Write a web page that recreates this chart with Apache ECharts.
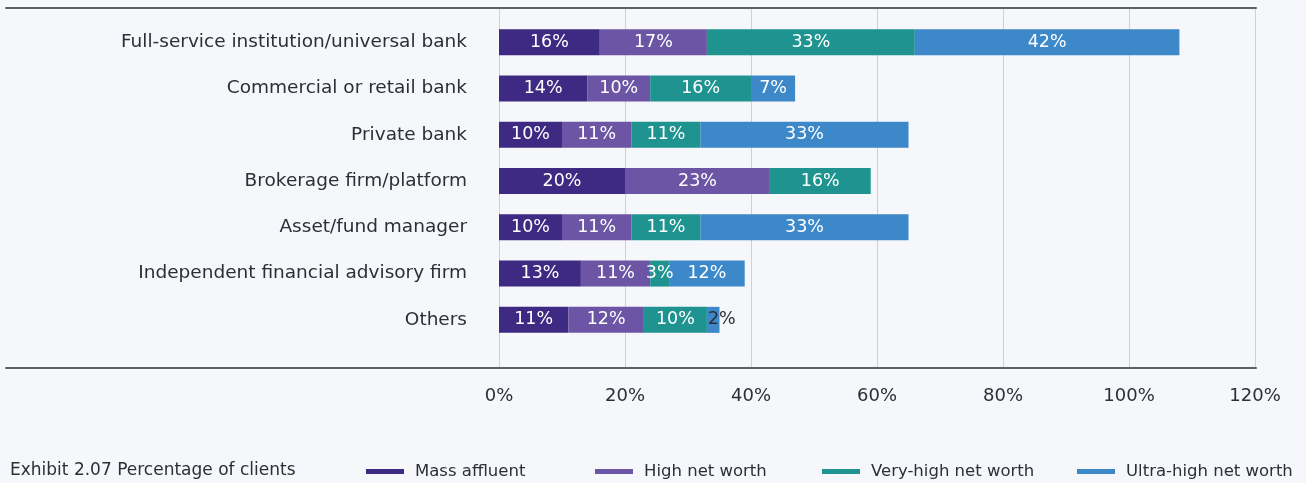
<!DOCTYPE html>
<html>
<head>
<meta charset="utf-8">
<script src="https://cdn.jsdelivr.net/npm/echarts@6/dist/echarts.min.js"></script>
<style>
  html, body { margin: 0; padding: 0; background: #f6f7fb; }
  #chart { width: 1306px; height: 483px; }
</style>
</head>
<body>
<div id="chart"></div>
<script>
// categories, top to bottom
const categories = [
  "Full-service institution/universal bank",
  "Commercial or retail bank",
  "Private bank",
  "Brokerage firm/platform",
  "Asset/fund manager",
  "Independent financial advisory firm",
  "Others",
];
const seriesNames = ["Mass affluent", "High net worth", "Very-high net worth", "Ultra-high net worth"];
const massAffluent = [16, 14, 10, 20, 10, 13, 11];
const highNetWorth = [17, 10, 11, 23, 11, 11, 12];
const veryHighNetWorth = [33, 16, 11, 16, 11, 3, 10];
const ultraHighNetWorth = [42, 7, 33, 0, 33, 12, 2];
const xTicks = [0, 20, 40, 60, 80, 100, 120];

const colors = ["#3e2a82", "#6b55a4", "#1f938f", "#3c88c9"];
const textColor = "#2e2e38";
const font = "DejaVu Sans";

const chart = echarts.init(document.getElementById("chart"));

const makeData = (arr) =>
  arr.map((v) => {
    if (!v) return { value: null };
    const item = { value: v };
    // tiny 2% segment: label spills over, drawn dark
    if (v <= 2) {
      item.label = { color: textColor, position: "insideLeft", offset: [-4, 0] };
    }
    return item;
  });

const series = [massAffluent, highNetWorth, veryHighNetWorth, ultraHighNetWorth].map((arr, si) => ({
  name: seriesNames[si],
  type: "bar",
  stack: "total",
  xAxisIndex: 3,
  yAxisIndex: 2,
  barWidth: 26,
  itemStyle: { color: colors[si] },
  label: {
    show: true,
    color: "#ffffff",
    fontFamily: font,
    fontSize: 17.5,
    formatter: (p) => p.value + "%",
  },
  data: makeData(arr),
}));

const legends = seriesNames.map((name, i) => ({
  data: [name],
  left: [361, 590, 817, 1072][i],
  bottom: -2,
  itemWidth: 38,
  itemHeight: 5,
  icon: "rect",
  textStyle: { color: textColor, fontFamily: font, fontSize: 16.5, padding: [0, 0, 0, 6] },
  selectedMode: false,
}));

const frameLine = { show: true, onZero: false, lineStyle: { color: "#5f5f68", width: 2 } };

chart.setOption({
  backgroundColor: "#f6f7fb",
  animation: false,
  title: {
    text: "Exhibit 2.07 Percentage of clients",
    left: 5,
    bottom: -1,
    textStyle: { color: textColor, fontFamily: font, fontSize: 17, fontWeight: "normal" },
  },
  legend: legends,
  grid: [
    // frame lines across full width
    { left: 6, right: 50, top: 8, height: 360 },
    // value axis with split lines
    { left: 499, right: 51, top: 8, height: 360 },
    // bars
    { left: 499, right: 51, top: 19, height: 324 },
  ],
  xAxis: [
    {
      gridIndex: 0, type: "value", position: "top", min: 0, max: 1,
      axisLine: frameLine, axisTick: { show: false }, axisLabel: { show: false }, splitLine: { show: false },
    },
    {
      gridIndex: 0, type: "value", position: "bottom", min: 0, max: 1,
      axisLine: frameLine, axisTick: { show: false }, axisLabel: { show: false }, splitLine: { show: false },
    },
    {
      gridIndex: 1, type: "value", min: 0, max: 120, interval: 20,
      axisLine: { show: false },
      axisTick: { show: false },
      axisLabel: {
        color: textColor, fontFamily: font, fontSize: 18, margin: 19,
        formatter: (v) => (xTicks.includes(v) ? v + "%" : ""),
      },
      splitLine: { show: true, lineStyle: { color: "#cfd0d6", width: 1 } },
    },
    { gridIndex: 2, type: "value", min: 0, max: 120, show: false },
  ],
  yAxis: [
    { gridIndex: 0, type: "value", show: false, axisLine: { show: false }, splitLine: { show: false } },
    { gridIndex: 1, type: "value", show: false, axisLine: { show: false }, splitLine: { show: false } },
    {
      gridIndex: 2, type: "category", data: categories, inverse: true,
      axisLine: { show: false }, axisTick: { show: false },
      axisLabel: { color: textColor, fontFamily: font, fontSize: 18.5, margin: 32 },
    },
  ],
  series: series,
});
</script>
</body>
</html>
